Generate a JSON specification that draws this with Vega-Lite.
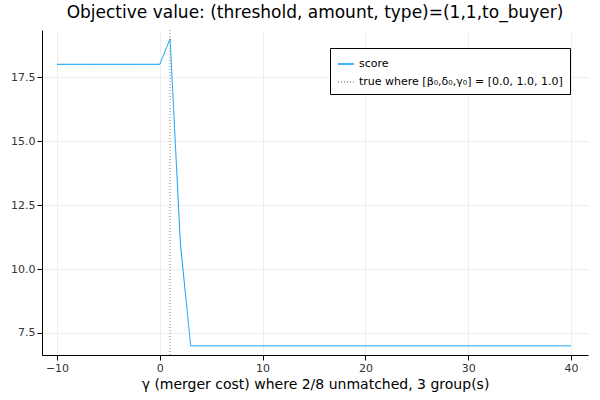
{
  "$schema": "https://vega.github.io/schema/vega-lite/v6.json",
  "autosize": "none",
  "width": 546,
  "height": 325,
  "padding": {"left": 42, "top": 30, "right": 12, "bottom": 45},
  "background": "white",
  "config": {"font": "DejaVu Sans", "view": {"stroke": null}},
  "title": {"text": "Objective value: (threshold, amount, type)=(1,1,to_buyer)", "fontSize": 17, "fontWeight": "normal", "offset": 8, "color": "black"},
  "datasets": {
    "score": [
      {"x": -10, "y": 18, "series": "score"},
      {"x": -9, "y": 18, "series": "score"},
      {"x": -8, "y": 18, "series": "score"},
      {"x": -7, "y": 18, "series": "score"},
      {"x": -6, "y": 18, "series": "score"},
      {"x": -5, "y": 18, "series": "score"},
      {"x": -4, "y": 18, "series": "score"},
      {"x": -3, "y": 18, "series": "score"},
      {"x": -2, "y": 18, "series": "score"},
      {"x": -1, "y": 18, "series": "score"},
      {"x": 0, "y": 18, "series": "score"},
      {"x": 1, "y": 19, "series": "score"},
      {"x": 2, "y": 11, "series": "score"},
      {"x": 3, "y": 7, "series": "score"},
      {"x": 10, "y": 7, "series": "score"},
      {"x": 20, "y": 7, "series": "score"},
      {"x": 30, "y": 7, "series": "score"},
      {"x": 40, "y": 7, "series": "score"}
    ],
    "truth": [
      {"x": 1, "series": "true where [β₀,δ₀,γ₀] = [0.0, 1.0, 1.0]"}
    ]
  },
  "layer": [
    {
      "data": {"name": "score"},
      "mark": {"type": "line", "strokeWidth": 1, "clip": true},
      "encoding": {
        "x": {"field": "x", "type": "quantitative", "scale": {"domain": [-11.46, 41.65], "nice": false, "zero": false},
          "axis": {"title": "γ (merger cost) where 2/8 unmatched, 3 group(s)", "titleFontSize": 14, "titleFontWeight": "normal", "titleColor": "black", "values": [-10, 0, 10, 20, 30, 40], "gridColor": "#eee", "domainColor": "black", "tickColor": "black", "labelFontSize": 11, "labelColor": "#333"}},
        "y": {"field": "y", "type": "quantitative", "scale": {"domain": [6.64, 19.34], "nice": false, "zero": false},
          "axis": {"title": null, "values": [7.5, 10, 12.5, 15, 17.5], "format": ".1f", "gridColor": "#eee", "domainColor": "black", "tickColor": "black", "labelFontSize": 11, "labelColor": "#333"}},
        "color": {"field": "series", "type": "nominal",
          "scale": {"domain": ["score", "true where [β₀,δ₀,γ₀] = [0.0, 1.0, 1.0]"], "range": ["#009AFA", "#888888"]},
          "legend": {"title": null, "orient": "top-right", "offset": 18, "symbolType": "stroke", "symbolSize": 250, "labelFontSize": 11, "labelLimit": 400, "labelColor": "black", "strokeColor": "black", "padding": 7, "fillColor": "white", "rowPadding": 4}},
        "strokeDash": {"field": "series", "type": "nominal",
          "scale": {"domain": ["score", "true where [β₀,δ₀,γ₀] = [0.0, 1.0, 1.0]"], "range": [[1, 0], [1, 2]]},
          "legend": null}
      }
    },
    {
      "data": {"name": "truth"},
      "mark": {"type": "rule", "strokeWidth": 1},
      "encoding": {
        "x": {"field": "x", "type": "quantitative"},
        "color": {"field": "series", "type": "nominal"},
        "strokeDash": {"field": "series", "type": "nominal"}
      }
    }
  ]
}
